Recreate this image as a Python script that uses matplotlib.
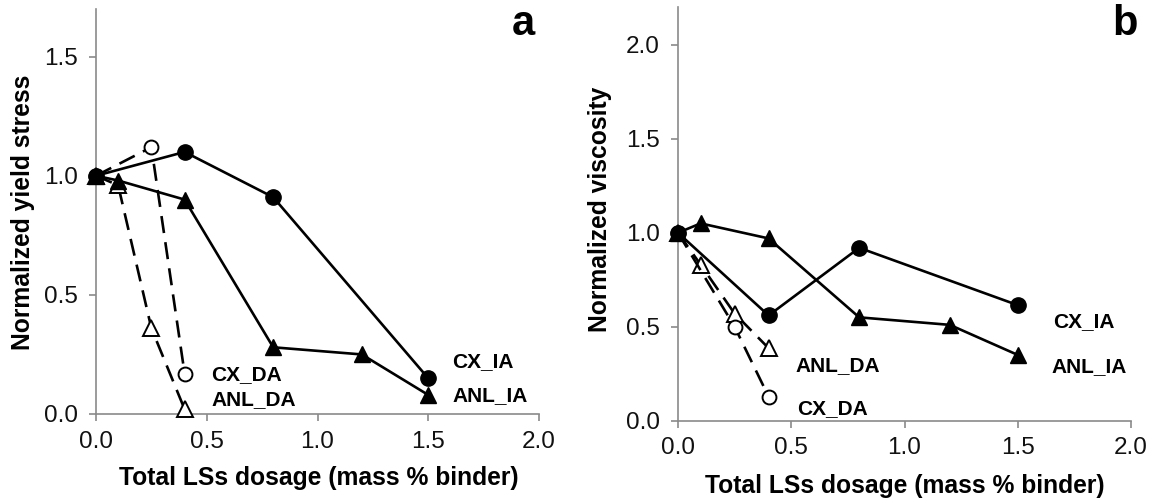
import matplotlib
matplotlib.use("Agg")
import matplotlib.pyplot as plt

plt.rcParams['font.family'] = ['Liberation Sans', 'DejaVu Sans']

# ---- data: panel a (normalized yield stress) ----
a_cx_ia_x = [0.0, 0.4, 0.8, 1.5]
a_cx_ia_y = [1.0, 1.10, 0.91, 0.15]
a_anl_ia_x = [0.0, 0.1, 0.4, 0.8, 1.2, 1.5]
a_anl_ia_y = [1.0, 0.98, 0.90, 0.28, 0.25, 0.08]
a_cx_da_x = [0.0, 0.25, 0.4]
a_cx_da_y = [1.0, 1.12, 0.17]
a_anl_da_x = [0.0, 0.1, 0.25, 0.4]
a_anl_da_y = [1.0, 0.96, 0.36, 0.02]

# ---- data: panel b (normalized viscosity) ----
b_cx_ia_x = [0.0, 0.4, 0.8, 1.5]
b_cx_ia_y = [1.0, 0.56, 0.92, 0.615]
b_anl_ia_x = [0.0, 0.1, 0.4, 0.8, 1.2, 1.5]
b_anl_ia_y = [1.0, 1.05, 0.97, 0.55, 0.51, 0.35]
b_cx_da_x = [0.0, 0.25, 0.4]
b_cx_da_y = [1.0, 0.50, 0.128]
b_anl_da_x = [0.0, 0.1, 0.25, 0.4]
b_anl_da_y = [1.0, 0.83, 0.57, 0.386]

x_ticks = [0.0, 0.5, 1.0, 1.5, 2.0]
a_y_ticks = [0.0, 0.5, 1.0, 1.5]
b_y_ticks = [0.0, 0.5, 1.0, 1.5, 2.0]
xlabel = "Total LSs dosage (mass % binder)"
a_ylabel = "Normalized yield stress"
b_ylabel = "Normalized viscosity"

a_labels = [("CX_DA", 0.52, 0.165), ("ANL_DA", 0.52, 0.06),
            ("CX_IA", 1.61, 0.22), ("ANL_IA", 1.61, 0.078)]
b_labels = [("ANL_DA", 0.517, 0.296), ("CX_DA", 0.524, 0.067),
            ("CX_IA", 1.658, 0.526), ("ANL_IA", 1.65, 0.287)]

fig = plt.figure(figsize=(11.57, 5.01), dpi=100)
ax_a = fig.add_axes([96/1157, 1 - 414/501, 443/1157, 405/501])
ax_b = fig.add_axes([678/1157, 1 - 420.7/501, 453/1157, 413.4/501])

spine_col = '#8a8a8a'
tick_col = '#111111'


def style(ax, ylim, yticks):
    ax.set_xlim(0, 2.0)
    ax.set_ylim(0, ylim)
    ax.set_xticks(x_ticks)
    ax.set_yticks(yticks)
    ax.set_xticklabels([f"{v:.1f}" for v in x_ticks])
    ax.set_yticklabels([f"{v:.1f}" for v in yticks])
    for s in ['top', 'right']:
        ax.spines[s].set_visible(False)
    for s in ['left', 'bottom']:
        ax.spines[s].set_color(spine_col)
        ax.spines[s].set_linewidth(1.2)
    ax.tick_params(axis='both', colors=spine_col, labelcolor=tick_col,
                   labelsize=17.5, length=5, width=1.2, direction='out')
    ax.tick_params(axis='x', pad=7)
    ax.tick_params(axis='y', pad=8)


def draw(ax, cx_ia, anl_ia, cx_da, anl_da):
    lw = 1.9
    dash = (0, (6.5, 3.5))
    ax.plot(*anl_da, color='black', lw=lw, ls=dash, marker='^',
            ms=11, mfc='white', mec='black', mew=1.4, clip_on=False, zorder=3)
    ax.plot(*cx_da, color='black', lw=lw, ls=dash, marker='o',
            ms=10, mfc='white', mec='black', mew=1.4, clip_on=False, zorder=3)
    ax.plot(*anl_ia, color='black', lw=lw, ls='-', marker='^',
            ms=12, mfc='black', mec='black', clip_on=False, zorder=4)
    ax.plot(*cx_ia, color='black', lw=lw, ls='-', marker='o',
            ms=11, mfc='black', mec='black', clip_on=False, zorder=4)


style(ax_a, 1.70, a_y_ticks)
style(ax_b, 2.20, b_y_ticks)

draw(ax_a, (a_cx_ia_x, a_cx_ia_y), (a_anl_ia_x, a_anl_ia_y),
     (a_cx_da_x, a_cx_da_y), (a_anl_da_x, a_anl_da_y))
draw(ax_b, (b_cx_ia_x, b_cx_ia_y), (b_anl_ia_x, b_anl_ia_y),
     (b_cx_da_x, b_cx_da_y), (b_anl_da_x, b_anl_da_y))

for ax, labs in ((ax_a, a_labels), (ax_b, b_labels)):
    for t, x, y in labs:
        ax.text(x, y, t, fontsize=15, fontweight='bold', ha='left',
                va='center', color='black')

# axis labels
fig.text(319/1157, 1 - 478/501, xlabel, fontsize=17.7, fontweight='bold',
         ha='center', va='center')
fig.text(905/1157, 1 - 486/501, xlabel, fontsize=17.7, fontweight='bold',
         ha='center', va='center')
fig.text(23/1157, 1 - 212/501, a_ylabel, fontsize=17.7, fontweight='bold',
         ha='center', va='center', rotation=90)
fig.text(600/1157, 1 - 209/501, b_ylabel, fontsize=17.7, fontweight='bold',
         ha='center', va='center', rotation=90)

# panel letters
fig.text(523/1157, 1 - 35/501, "a", fontsize=30, fontweight='bold',
         ha='center', va='baseline')
fig.text(1125/1157, 1 - 35/501, "b", fontsize=30, fontweight='bold',
         ha='center', va='baseline')

fig.savefig("out.png", dpi=100)
